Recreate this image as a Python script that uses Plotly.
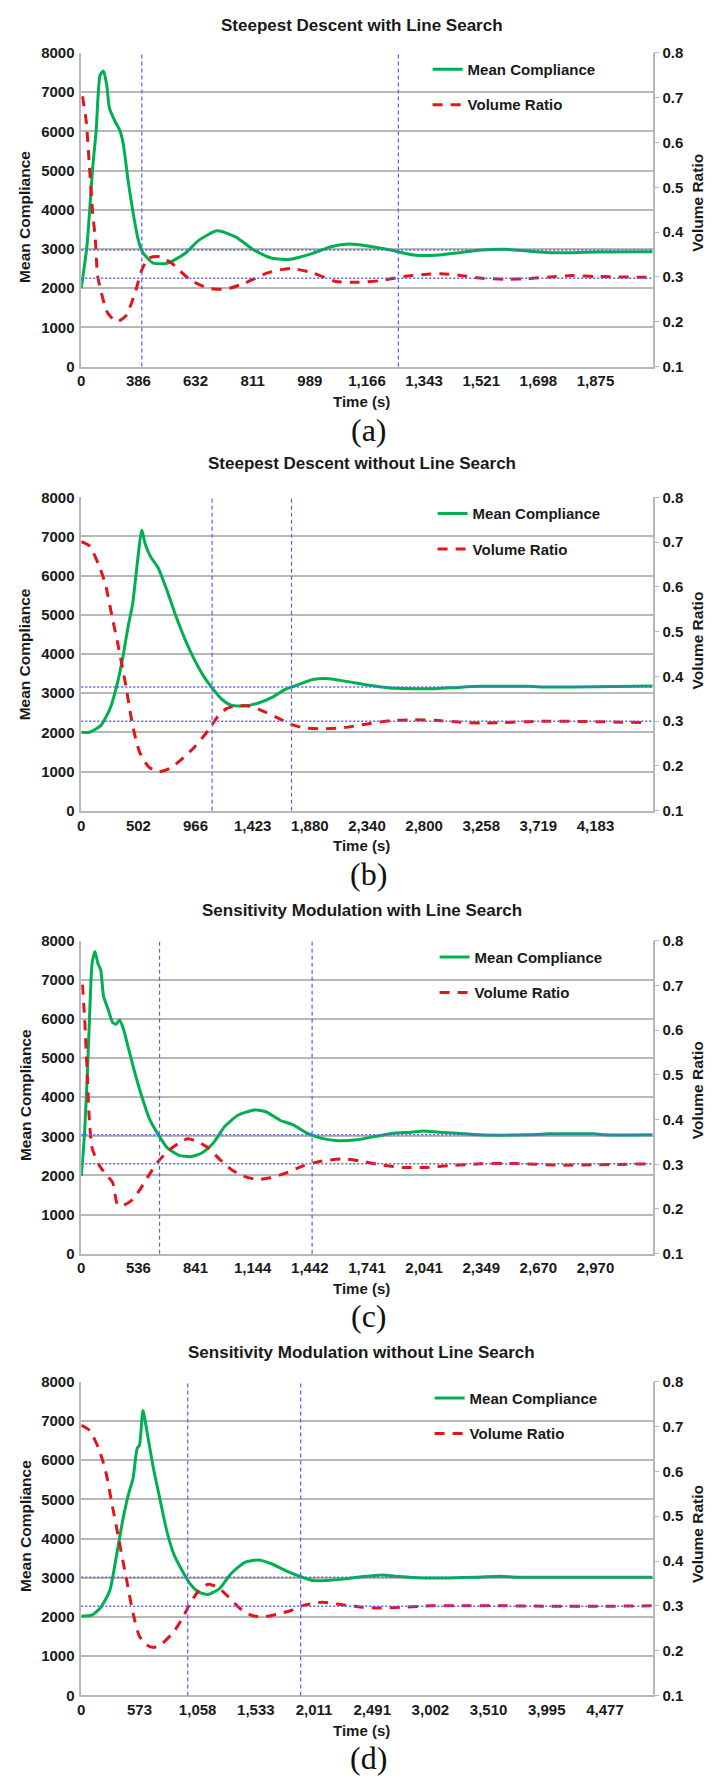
import plotly.graph_objects as go

W, H = 717, 1781

# ---------------- data (x = iteration step index on a category-like axis) ----------------
titles = ["Steepest Descent with Line Search",
          "Steepest Descent without Line Search",
          "Sensitivity Modulation with Line Search",
          "Sensitivity Modulation without Line Search"]
captions = ["(a)", "(b)", "(c)", "(d)"]

ticklabels_a = ["0", "386", "632", "811", "989", "1,166", "1,343", "1,521", "1,698", "1,875"]
ticklabels_b = ["0", "502", "966", "1,423", "1,880", "2,340", "2,800", "3,258", "3,719", "4,183"]
ticklabels_c = ["0", "536", "841", "1,144", "1,442", "1,741", "2,041", "2,349", "2,670", "2,970"]
ticklabels_d = ["0", "573", "1,058", "1,533", "2,011", "2,491", "3,002", "3,510", "3,995", "4,477"]

a_comp_x = [0, 0.98, 2.0, 2.6, 3.3, 3.88, 4.46, 4.93, 5.9, 6.8, 7.36, 8.2, 9.1, 9.97, 10.8, 12.6, 15,
            18.2, 20.6, 23.8, 27, 30.2, 33.4, 36.6, 40.5, 43.7, 46.9, 50.1, 54.1, 58.1, 62.1, 66.1,
            70.1, 74.1, 78.1, 82, 86, 90, 100]
a_comp = [2004, 3056, 5077, 6003, 7434, 7535, 7181, 6593, 6256, 6004, 5666, 4741, 3898, 3233, 2900,
          2640, 2636, 2888, 3225, 3461, 3309, 2973, 2762, 2737, 2888, 3057, 3124, 3074, 2973, 2846,
          2838, 2905, 2973, 2990, 2947, 2905, 2905, 2922, 2930]
a_vol_x = [0.2, 0.87, 1.44, 2.0, 2.43, 2.9, 4.6, 6.2, 7.8, 9.4, 10.6, 11.8, 13.8, 15.8, 19, 22.2, 25.4,
           28.6, 32.6, 36.6, 40.5, 44.5, 48.5, 52.5, 56.5, 60.5, 62.9, 66.1, 70.1, 74.1, 78.1, 82,
           86, 90, 100]
a_vol = [0.703, 0.647, 0.544, 0.441, 0.39, 0.3, 0.22, 0.2, 0.213, 0.264, 0.316, 0.342, 0.345, 0.331,
         0.294, 0.275, 0.273, 0.286, 0.309, 0.319, 0.309, 0.29, 0.288, 0.292, 0.301, 0.306, 0.307,
         0.304, 0.297, 0.295, 0.296, 0.3, 0.303, 0.301, 0.299]

b_comp_x = [0, 1.4, 3.4, 5, 6.2, 7.2, 8.2, 9, 9.6, 10.6, 11.2, 12.2, 13.4, 15, 16.6, 18.2, 19.8, 21.4,
            23, 24.6, 26.2, 28.5, 30.9, 33.3, 35.7, 38.1, 40.5, 42.9, 46.1, 50.1, 54.1, 58.1, 62,
            66, 70, 74, 78, 82, 90, 100]
b_comp = [2004, 2004, 2173, 2594, 3183, 3857, 4699, 5288, 6046, 7166, 6804, 6467, 6215, 5625, 4952,
          4362, 3857, 3436, 3116, 2846, 2695, 2678, 2745, 2888, 3099, 3225, 3352, 3377, 3309, 3208,
          3133, 3116, 3116, 3149, 3175, 3175, 3175, 3158, 3166, 3183]
b_vol_x = [0, 1.4, 3, 4.2, 5.4, 6.6, 7.8, 9, 10.2, 11.8, 13.6, 15.4, 17.4, 19.8, 22.2, 23.8, 25.4, 27,
           29.3, 31.7, 34.1, 36.5, 38.9, 42.1, 46.1, 50.1, 54.1, 58.1, 62, 66, 70, 74, 78, 82, 90,
           98.7]
b_vol = [0.701, 0.692, 0.651, 0.607, 0.533, 0.46, 0.379, 0.29, 0.231, 0.198, 0.187, 0.194, 0.213,
         0.242, 0.279, 0.309, 0.328, 0.334, 0.334, 0.323, 0.309, 0.294, 0.285, 0.283, 0.286, 0.294,
         0.301, 0.303, 0.302, 0.298, 0.296, 0.297, 0.299, 0.3, 0.299, 0.297]

c_comp_x = [0, 0.56, 1.1, 1.5, 1.9, 2.4, 2.9, 3.4, 3.9, 4.7, 5.5, 6.1, 6.7, 7.3, 8.3, 9.5, 10.7, 11.9,
            13.5, 15.1, 17.1, 19.1, 21.1, 23.1, 25.1, 27.5, 30.3, 32.3, 34.7, 37.1, 39.5, 41.9, 45,
            48.2, 51.4, 54.6, 57.8, 59.8, 62.6, 65.8, 69.8, 73.8, 77.8, 81.8, 85.8, 89.8, 91.4, 100]
c_comp = [1983, 3038, 4726, 6245, 7426, 7722, 7426, 7257, 6582, 6245, 5907, 5865, 5975, 5781, 5232,
          4557, 3966, 3460, 3038, 2700, 2515, 2481, 2574, 2827, 3249, 3544, 3671, 3629, 3418, 3291,
          3080, 2954, 2886, 2911, 2996, 3080, 3105, 3139, 3105, 3080, 3038, 3030, 3038, 3063, 3063,
          3063, 3038, 3038]
c_vol_x = [0.2, 0.6, 1.0, 1.4, 1.9, 3.1, 4.3, 5.5, 6.3, 7.1, 8.7, 10.3, 11.9, 13.5, 15.5, 17.5, 18.7,
           20.3, 22.3, 24.3, 26.3, 28.3, 30.7, 33.1, 35.5, 38.7, 41.9, 45.8, 49, 52.2, 56.2, 60.2,
           64.2, 69.8, 73.8, 77.8, 83.4, 89.8, 100]
c_vol = [0.702, 0.624, 0.514, 0.403, 0.336, 0.299, 0.277, 0.259, 0.211, 0.207, 0.218, 0.244, 0.277,
         0.307, 0.333, 0.351, 0.357, 0.351, 0.336, 0.31, 0.288, 0.274, 0.266, 0.27, 0.279, 0.296,
         0.307, 0.312, 0.307, 0.299, 0.293, 0.293, 0.297, 0.301, 0.302, 0.301, 0.298, 0.299, 0.301]

d_comp_x = [0, 1.8, 3.4, 4.9, 6.1, 7.1, 8.1, 8.9, 9.6, 10.0, 10.6, 11.4, 12.4, 13.6, 14.7, 15.9, 17.5,
            18.7, 20.2, 21.8, 23.7, 25.7, 28.1, 30.4, 32.8, 35.1, 37.5, 39.8, 42.2, 45.3, 48.4, 51.6,
            54.7, 58.6, 63.3, 68, 71.9, 75.1, 80.6, 88.4, 98.2]
d_comp = [2021, 2046, 2257, 2678, 3604, 4446, 5120, 5541, 6299, 6383, 7267, 6636, 5794, 4952, 4194,
          3604, 3141, 2846, 2636, 2577, 2720, 3099, 3394, 3453, 3352, 3183, 3040, 2931, 2931, 2973,
          3032, 3074, 3032, 2998, 2998, 3015, 3040, 3015, 3015, 3015, 3015]
d_vol_x = [0, 1.4, 3, 4.2, 5.3, 6.5, 7.7, 8.9, 10, 11.2, 12.4, 13.9, 15.9, 17.5, 18.7, 20.2, 21.8, 23.4,
           25.3, 27.3, 29.2, 31.2, 33.5, 35.9, 38.2, 41.4, 44.5, 48.4, 51.6, 55.5, 60.2, 64.9, 72.7,
           80.6, 88.4, 98.2]
d_vol = [0.703, 0.692, 0.651, 0.6, 0.526, 0.445, 0.364, 0.283, 0.232, 0.213, 0.207, 0.216, 0.242,
         0.275, 0.305, 0.334, 0.348, 0.342, 0.32, 0.294, 0.279, 0.275, 0.281, 0.289, 0.301, 0.308,
         0.303, 0.297, 0.295, 0.297, 0.3, 0.3, 0.3, 0.299, 0.299, 0.3]

vlines = [[10.6, 55.5], [22.9, 36.8], [13.7, 40.4], [18.3, 37.7]]
hline_comp = [2970, 3158, 3038, 3015]
hline_vol = [0.297, 0.300, 0.301, 0.299]
x_max = [100, 100, 100, 98.2]

panels = [
    (a_comp_x, a_comp, a_vol_x, a_vol, ticklabels_a),
    (b_comp_x, b_comp, b_vol_x, b_vol, ticklabels_b),
    (c_comp_x, c_comp, c_vol_x, c_vol, ticklabels_c),
    (d_comp_x, d_comp, d_vol_x, d_vol, ticklabels_d),
]

# ---------------- layout geometry (pixels) ----------------
PL, PR = 77.7, 652.3
tops = [44.3, 493.0, 940.7, 1386.0]
bots = [361.0, 809.5, 1256.7, 1702.7]
title_y = [17, 459, 910, 1356]
cap_y = [424.7, 873, 1320, 1766]
ltitle_y = [210, 651.7, 1096.7, 1531.7]
rtitle_y = [196, 638, 1092, 1540]
legend_text_x = [468, 473, 475, 470]

def px(x):
    return x / W

def py(y):
    return 1 - y / H

GREEN = "#00b050"
RED = "#e2151b"
BLUE = "#5c5cff"
GRID = "#b8b8b8"
FONT = "Liberation Sans"
TXT = "#1a1a1a"

fig = go.Figure()
layout = dict(width=W, height=H, margin=dict(l=0, r=0, t=0, b=0),
              paper_bgcolor="white", plot_bgcolor="white", showlegend=True,
              font=dict(family=FONT, color=TXT))
annotations = []
shapes = []

for i, (cx, cy, vx, vy, tl) in enumerate(panels):
    n = i + 1
    xa = "x" if n == 1 else f"x{n}"
    ya = "y" if n == 1 else f"y{n}"
    yr = f"y{n + 4}"
    leg = "legend" if n == 1 else f"legend{n}"
    fig.add_trace(go.Scatter(x=cx, y=cy, mode="lines", name="Mean Compliance",
                             line=dict(color=GREEN, width=3, shape="spline", smoothing=0.6),
                             xaxis=xa, yaxis=ya, legend=leg, legendgroup=f"c{n}"))
    fig.add_trace(go.Scatter(x=vx, y=vy, mode="lines", name="Volume Ratio",
                             line=dict(color=RED, width=3, dash="10px,8px", shape="spline", smoothing=0.6),
                             xaxis=xa, yaxis=yr, legend=leg, legendgroup=f"v{n}"))
    dom_y = [py(bots[i]), py(tops[i])]
    xkey = "xaxis" if n == 1 else f"xaxis{n}"
    ykey = "yaxis" if n == 1 else f"yaxis{n}"
    layout[xkey] = dict(domain=[px(PL), px(PR)], anchor=ya, range=[0, x_max[i]],
                        tickvals=[k * 10 for k in range(len(tl))], ticktext=tl,
                        showgrid=False, zeroline=False, showline=True, linecolor=GRID, linewidth=1.5,
                        ticks="", tickfont=dict(family=FONT, size=15, weight="bold", color=TXT))
    layout[ykey] = dict(domain=dom_y, anchor=xa, range=[0, 8000], tickvals=list(range(0, 8001, 1000)),
                        showgrid=True, gridcolor=GRID, gridwidth=1.5, zeroline=False,
                        showline=True, linecolor=GRID, linewidth=1.5, ticks="",
                        ticklabelstandoff=2,
                        tickfont=dict(family=FONT, size=15, weight="bold", color=TXT))
    layout[f"yaxis{n + 4}"] = dict(domain=dom_y, anchor=xa, overlaying=ya, side="right",
                                   range=[0.1, 0.8], tickvals=[0.1, 0.2, 0.3, 0.4, 0.5, 0.6, 0.7, 0.8],
                                   ticktext=["0.1", "0.2", "0.3", "0.4", "0.5", "0.6", "0.7", "0.8"],
                                   showgrid=False, zeroline=False, showline=True, linecolor=GRID,
                                   linewidth=1.5, ticks="outside", ticklen=5, tickcolor=GRID,
                                   tickfont=dict(family=FONT, size=15, weight="bold", color=TXT))
    layout[leg] = dict(x=px(legend_text_x[i] - 42), y=py(tops[i] + 0), xanchor="left", yanchor="top",
                       bgcolor="rgba(255,255,255,0)", tracegroupgap=13,
                       font=dict(family=FONT, size=15, weight="bold", color=TXT))
    # reference lines
    for v in vlines[i]:
        shapes.append(dict(type="line", xref=xa, yref=f"{ya} domain", x0=v, x1=v, y0=0, y1=1,
                           line=dict(color=BLUE, width=1.2, dash="4px,3px")))
    shapes.append(dict(type="line", xref=f"{xa} domain", yref=ya, x0=0, x1=1,
                       y0=hline_comp[i], y1=hline_comp[i], line=dict(color=BLUE, width=1.5, dash="2px,2px")))
    shapes.append(dict(type="line", xref=f"{xa} domain", yref=yr, x0=0, x1=1,
                       y0=hline_vol[i], y1=hline_vol[i], line=dict(color=BLUE, width=1.5, dash="2px,2px")))
    # texts
    annotations.append(dict(text=titles[i], x=px(360), y=py(title_y[i]), xref="paper", yref="paper",
                            xanchor="center", yanchor="middle", showarrow=False,
                            font=dict(family=FONT, size=17, weight="bold", color=TXT)))
    annotations.append(dict(text="Time (s)", x=px(360), y=py(bots[i] + 35), xref="paper", yref="paper",
                            xanchor="center", yanchor="middle", showarrow=False,
                            font=dict(family=FONT, size=15, weight="bold", color=TXT)))
    annotations.append(dict(text="Mean Compliance", x=px(21), y=py(ltitle_y[i]), xref="paper", yref="paper",
                            xanchor="center", yanchor="middle", showarrow=False, textangle=-90,
                            font=dict(family=FONT, size=15.5, weight="bold", color=TXT)))
    annotations.append(dict(text="Volume Ratio", x=px(697.5), y=py(rtitle_y[i]), xref="paper", yref="paper",
                            xanchor="center", yanchor="middle", showarrow=False, textangle=-90,
                            font=dict(family=FONT, size=15.5, weight="bold", color=TXT)))
    annotations.append(dict(text=captions[i], x=px(367), y=py(cap_y[i]), xref="paper", yref="paper",
                            xanchor="center", yanchor="middle", showarrow=False,
                            font=dict(family="Liberation Serif", size=32, color="#111111")))

layout["annotations"] = annotations
layout["shapes"] = shapes
fig.update_layout(**layout)
fig.write_html("out.html", config={"displayModeBar": False},
               post_script="document.body.style.margin='0';document.body.style.overflow='hidden';")
